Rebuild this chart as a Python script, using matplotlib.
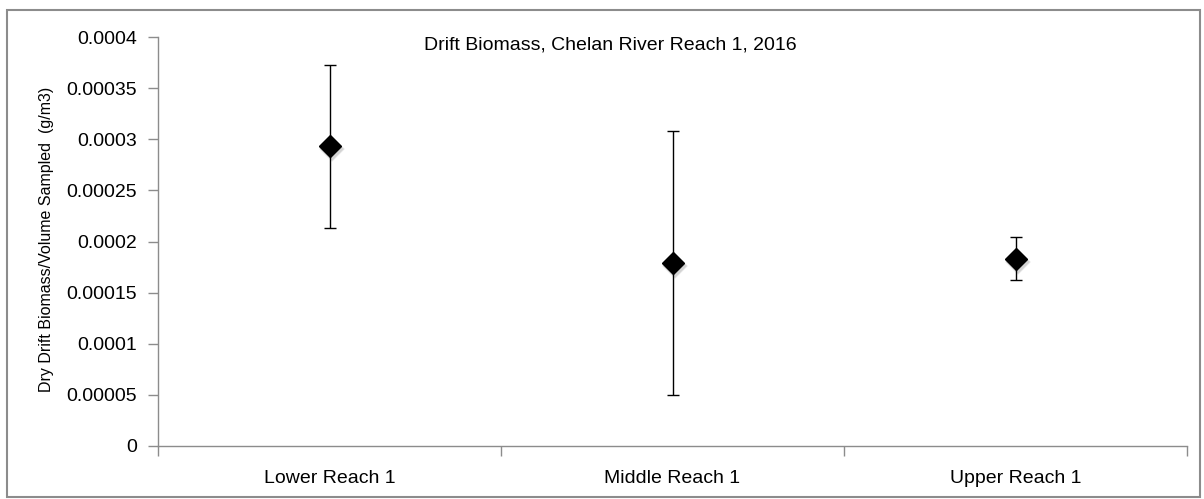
import matplotlib
matplotlib.use("Agg")
import matplotlib.pyplot as plt
from matplotlib.patches import Rectangle
import numpy as np

categories = ["Lower Reach 1", "Middle Reach 1", "Upper Reach 1"]
biomass = [0.000293, 0.000179, 0.000183]
err = [0.000080, 0.000129, 0.000021]
yticks = [0, 0.00005, 0.0001, 0.00015, 0.0002, 0.00025, 0.0003, 0.00035, 0.0004]
ytick_labels = ["0", "0.00005", "0.0001", "0.00015", "0.0002", "0.00025", "0.0003", "0.00035", "0.0004"]
title = "Drift Biomass, Chelan River Reach 1, 2016"
ylabel = "Dry Drift Biomass/Volume Sampled  (g/m3)"

plt.rcParams['font.family'] = ['Liberation Sans', 'DejaVu Sans']

W, H = 1204, 499
fig = plt.figure(figsize=(W / 100, H / 100), dpi=100)
fig.patch.set_facecolor('white')

# outer border
fig.patches.append(Rectangle((7 / W, 1 - 497 / H), (1200 - 7) / W, (497 - 10) / H,
                             transform=fig.transFigure, fill=False,
                             edgecolor='#8c8c8c', linewidth=1.5))

left, right = 158 / W, 1187 / W
top, bottom = 1 - 37 / H, 1 - 446 / H
ax = fig.add_axes([left, bottom, right - left, top - bottom])

x = np.arange(len(categories))
# soft shadow
for ms, a in [(13.5, 0.15), (12.5, 0.25)]:
    ax.plot(x + 0.006, np.array(biomass) - 0.000003, linestyle='none', marker='D',
            markersize=ms, color='#888888', alpha=a, markeredgewidth=0, zorder=2)
ax.errorbar(x, biomass, yerr=err, fmt='none', ecolor='black', elinewidth=1.0,
            capsize=4.5, capthick=1.0, zorder=3)
ax.plot(x, biomass, linestyle='none', marker='D', markersize=11, color='black', zorder=4)

ax.set_xlim(-0.5, len(categories) - 0.5)
ax.set_ylim(0, 0.0004)
ax.set_yticks(yticks)
ax.set_yticklabels(ytick_labels, fontsize=14)
ax.set_xticks(x)
ax.set_xticklabels(categories, fontsize=14)
ax.set_xticks(np.arange(len(categories) + 1) - 0.5, minor=True)
ax.tick_params(axis='x', which='major', length=0, pad=17)
ax.tick_params(axis='x', which='minor', length=7, width=1, color='#8c8c8c', direction='out')
ax.tick_params(axis='y', length=7, width=1, color='#8c8c8c', direction='out', pad=8)

for s in ['top', 'right']:
    ax.spines[s].set_visible(False)
for s in ['left', 'bottom']:
    ax.spines[s].set_color('#8c8c8c')
    ax.spines[s].set_linewidth(1.0)

fig.text(610 / W, 1 - 45 / H, title, ha='center', va='center', fontsize=14)
fig.text(47 / W, 1 - 239 / H, ylabel, rotation=90, ha='center', va='center', fontsize=11.5)

fig.savefig("out.png", dpi=100, facecolor='white')
